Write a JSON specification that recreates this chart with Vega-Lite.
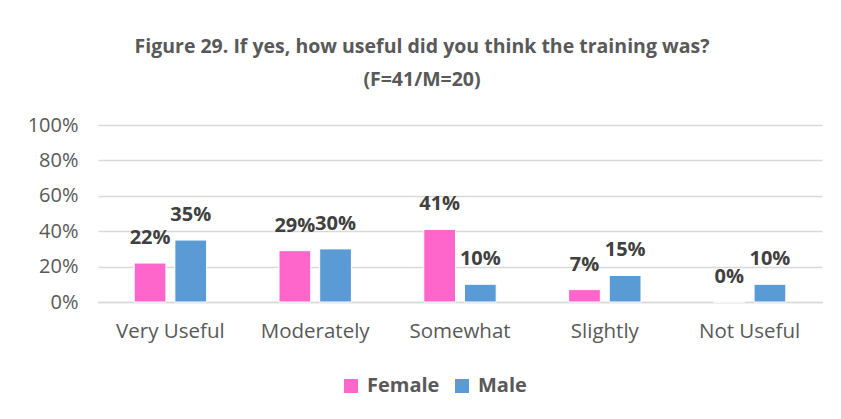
{
  "$schema": "https://vega.github.io/schema/vega-lite/v6.json",
  "width": 724,
  "height": 177,
  "autosize": {"type": "none"},
  "padding": {"left": 98, "top": 125, "right": 19, "bottom": 117},
  "background": "white",
  "config": {"view": {"stroke": null}},
  "title": {
    "text": ["Figure 29. If yes, how useful did you think the training was?", "(F=41/M=20)"],
    "font": "Open Sans",
    "fontSize": 19.5,
    "fontWeight": "bold",
    "color": "#595959",
    "lineHeight": 33,
    "offset": 25,
    "dx": -38
  },
  "data": {
    "values": [
      {"category": "Very Useful", "gender": "Female", "value": 0.22},
      {"category": "Very Useful", "gender": "Male", "value": 0.35},
      {"category": "Moderately", "gender": "Female", "value": 0.29},
      {"category": "Moderately", "gender": "Male", "value": 0.30},
      {"category": "Somewhat", "gender": "Female", "value": 0.41},
      {"category": "Somewhat", "gender": "Male", "value": 0.10},
      {"category": "Slightly", "gender": "Female", "value": 0.07},
      {"category": "Slightly", "gender": "Male", "value": 0.15},
      {"category": "Not Useful", "gender": "Female", "value": 0.0},
      {"category": "Not Useful", "gender": "Male", "value": 0.10}
    ]
  },
  "encoding": {
    "x": {
      "field": "category",
      "type": "nominal",
      "sort": ["Very Useful", "Moderately", "Somewhat", "Slightly", "Not Useful"],
      "scale": {"paddingInner": 0.5, "paddingOuter": 0.25},
      "axis": {
        "title": null,
        "labelAngle": 0,
        "labelFont": "Open Sans",
        "labelFontSize": 20.5,
        "labelColor": "#595959",
        "labelPadding": 19,
        "ticks": false,
        "domainColor": "#d9d9d9",
        "domainWidth": 1.5
      }
    },
    "xOffset": {
      "field": "gender",
      "type": "nominal",
      "scale": {"paddingInner": 0.22, "paddingOuter": 0}
    },
    "y": {
      "field": "value",
      "type": "quantitative",
      "scale": {"domain": [0, 1]},
      "axis": {
        "title": null,
        "format": ".0%",
        "values": [0, 0.2, 0.4, 0.6, 0.8, 1],
        "labelFont": "Open Sans",
        "labelFontSize": 20,
        "labelColor": "#595959",
        "labelPadding": 20,
        "ticks": false,
        "domain": false,
        "gridColor": "#d9d9d9",
        "gridWidth": 1.5
      }
    }
  },
  "layer": [
    {
      "mark": {"type": "bar", "stroke": "white", "strokeWidth": 1},
      "encoding": {
        "color": {
          "field": "gender",
          "type": "nominal",
          "scale": {"domain": ["Female", "Male"], "range": ["#ff66cc", "#5b9bd5"]},
          "legend": {
            "title": null,
            "orient": "none",
            "direction": "horizontal",
            "legendX": 243,
            "legendY": 251,
            "symbolType": "square",
            "symbolSize": 196,
            "symbolStrokeWidth": 0,
            "labelFont": "Open Sans",
            "labelFontSize": 20,
            "labelFontWeight": "bold",
            "labelColor": "#595959",
            "labelOffset": 6,
            "columnPadding": 12
          }
        }
      }
    },
    {
      "mark": {
        "type": "text",
        "font": "Open Sans",
        "fontSize": 20,
        "fontWeight": "bold",
        "color": "#404040",
        "baseline": "alphabetic",
        "dy": -19
      },
      "encoding": {
        "text": {"field": "value", "type": "quantitative", "format": ".0%"}
      }
    }
  ]
}
